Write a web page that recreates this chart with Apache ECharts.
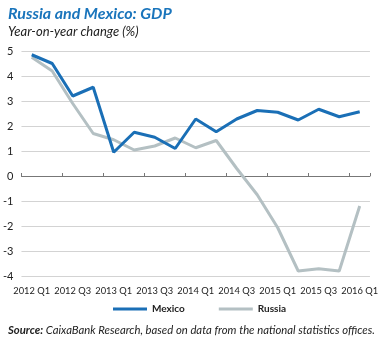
<!DOCTYPE html>
<html><head><meta charset="utf-8">
<style>html,body{margin:0;padding:0;background:#fff;}#c{width:381px;height:338px;}</style>
<script src="https://cdn.jsdelivr.net/npm/echarts@6/dist/echarts.min.js"></script>
</head><body><div id="c"></div>
<script>
var categories = ['2012 Q1','2012 Q2','2012 Q3','2012 Q4','2013 Q1','2013 Q2','2013 Q3','2013 Q4','2014 Q1','2014 Q2','2014 Q3','2014 Q4','2015 Q1','2015 Q2','2015 Q3','2015 Q4','2016 Q1'];
var mexico = [4.85, 4.5, 3.2, 3.55, 0.95, 1.75, 1.55, 1.1, 2.28, 1.77, 2.28, 2.62, 2.55, 2.24, 2.67, 2.37, 2.57];
var russia = [4.75, 4.2, 2.9, 1.7, 1.45, 1.04, 1.2, 1.52, 1.13, 1.42, 0.3, -0.75, -2.07, -3.8, -3.71, -3.8, -1.2];
var yTicks = {min: -4, max: 5, interval: 1};
var FONT = 'Lato';
var chart = echarts.init(document.getElementById('c'));
chart.setOption({
  animation: false,
  textStyle: {fontFamily: FONT},
  title: [
    {text: 'Russia and Mexico: GDP', left: 3, top: 1, textStyle: {fontFamily: FONT, fontSize: 16, fontWeight: 'bold', fontStyle: 'italic', color: '#1a75bc'}},
    {text: 'Year-on-year change (%)', left: 3, top: 20, textStyle: {fontFamily: FONT, fontSize: 13, fontWeight: 'normal', fontStyle: 'italic', color: '#222'}},
    {text: '{b|Source:} CaixaBank Research, based on data from the national statistics offices.', left: 3, top: 320,
     textStyle: {fontFamily: FONT, fontSize: 11.3, fontStyle: 'italic', fontWeight: 'normal', color: '#222',
       rich: {b: {fontFamily: FONT, fontSize: 11.3, fontStyle: 'italic', fontWeight: 'bold', color: '#222'}}}}
  ],
  legend: {
    left: 113, top: 304, padding: 0, itemWidth: 34, itemHeight: 3, itemGap: 34, icon: 'rect',
    textStyle: {fontFamily: FONT, fontSize: 10, fontWeight: 'bold', color: '#222'},
    data: ['Mexico', 'Russia']
  },
  grid: {left: 20, right: 9, top: 51, bottom: 62, containLabel: false},
  xAxis: [
    {type: 'category', data: categories, boundaryGap: true, position: 'bottom',
     axisLine: {show: false, onZero: false}, axisTick: {show: false},
     axisLabel: {interval: 1, margin: 10, fontSize: 9.3, color: '#222', fontFamily: FONT,
       hideOverlap: false, showMinLabel: true, showMaxLabel: true},
     splitLine: {show: false}},
    {type: 'category', data: categories, boundaryGap: true, position: 'bottom',
     axisLine: {show: true, onZero: true, lineStyle: {color: '#777', width: 1}},
     axisTick: {show: true, inside: true, interval: 1, length: 3, lineStyle: {color: '#777'}},
     axisLabel: {show: false}, splitLine: {show: false}}
  ],
  yAxis: {
    type: 'value', min: yTicks.min, max: yTicks.max, interval: yTicks.interval,
    axisLine: {show: false}, axisTick: {show: false},
    axisLabel: {fontSize: 11, color: '#222', margin: 8, fontFamily: FONT},
    splitLine: {show: true, lineStyle: {color: '#d3d3d3', width: 1}}
  },
  series: [
    {name: 'Mexico', type: 'line', data: mexico, xAxisIndex: 0, showSymbol: false, symbol: 'none',
     lineStyle: {width: 3, color: '#1a6fb6'}, itemStyle: {color: '#1a6fb6'}, z: 3},
    {name: 'Russia', type: 'line', data: russia, xAxisIndex: 0, showSymbol: false, symbol: 'none',
     lineStyle: {width: 3, color: '#b4c0c3'}, itemStyle: {color: '#b4c0c3'}, z: 2}
  ]
});
</script></body></html>
